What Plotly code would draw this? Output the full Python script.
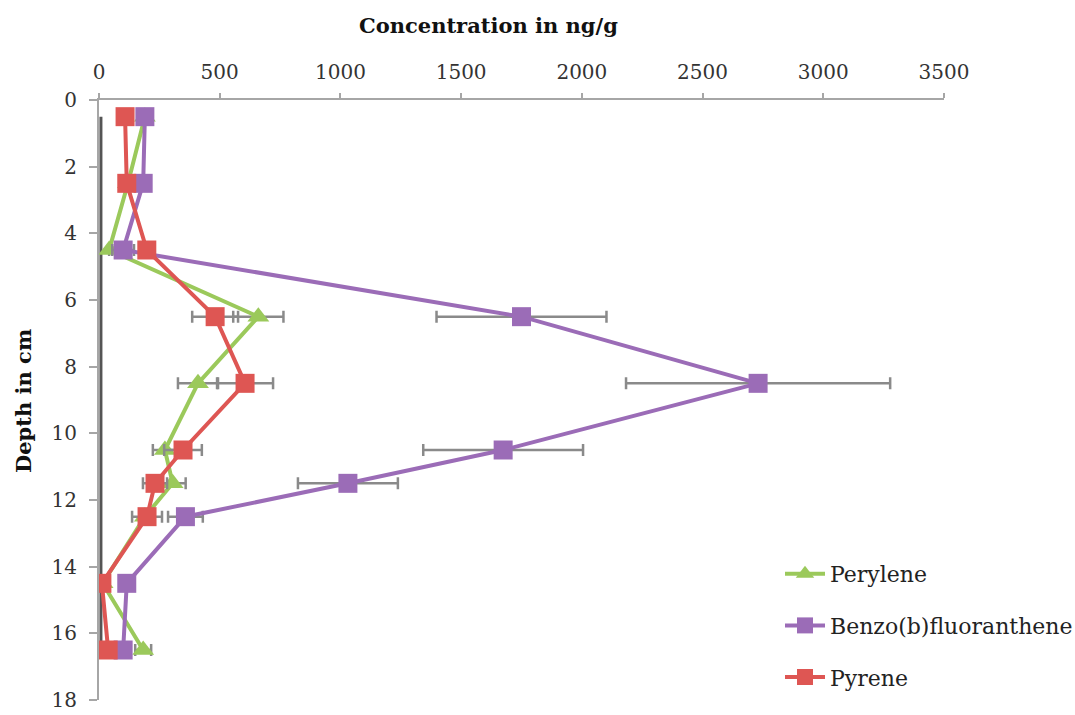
import plotly.graph_objects as go

# Sediment core sampling depths (cm)
depth = [0.5, 2.5, 4.5, 6.5, 8.5, 10.5, 11.5, 12.5, 14.5, 16.5]

# PAH concentrations (ng/g) per depth
perylene = [190, 120, 42, 660, 410, 273, 305, 190, 15, 183]
benzo_b_fluoranthene = [190, 183, 100, 1750, 2730, 1674, 1031, 358, 115, 100]
pyrene = [108, 115, 198, 481, 605, 348, 232, 199, 12, 38]
blank = [8, 8, 8, 8, 8, 8, 8, 8, 8, 8]

# Standard deviations (ng/g); None where no bar is shown
perylene_err = [None, None, None, 104, 83, 50, 54, None, None, 33]
benzo_err = [None, None, 45, 352, 547, 331, 207, 72, None, None]
pyrene_err = [None, None, None, 95, 116, 78, 50, 62, None, None]

x_ticks = [0, 500, 1000, 1500, 2000, 2500, 3000, 3500]
y_ticks = [0, 2, 4, 6, 8, 10, 12, 14, 16, 18]

GREEN = "#9BC95B"
PURPLE = "#9B6CB7"
RED = "#DE5653"
ERR = "#8A8A8A"
AXIS = "#A6A6A6"
FONT = "DejaVu Serif"


def err_cfg(values):
    return dict(type="data", array=values, symmetric=True, visible=True,
                color=ERR, thickness=2.5, width=6)


fig = go.Figure()

fig.add_trace(go.Scatter(
    x=blank, y=depth, mode="lines", showlegend=False, hoverinfo="skip",
    line=dict(color="#555555", width=3),
))

fig.add_trace(go.Scatter(
    x=perylene, y=depth, name="Perylene", mode="lines+markers",
    legendgroup="a",
    line=dict(color=GREEN, width=4),
    marker=dict(symbol="triangle-up", size=19, color=GREEN),
    error_x=err_cfg(perylene_err),
))
fig.add_trace(go.Scatter(
    x=benzo_b_fluoranthene, y=depth, name="Benzo(b)fluoranthene",
    mode="lines+markers", legendgroup="b",
    line=dict(color=PURPLE, width=4),
    marker=dict(symbol="square", size=19, color=PURPLE),
    error_x=err_cfg(benzo_err),
))
fig.add_trace(go.Scatter(
    x=pyrene, y=depth, name="Pyrene", mode="lines+markers",
    legendgroup="c",
    line=dict(color=RED, width=4),
    marker=dict(symbol="square", size=19, color=RED),
    error_x=err_cfg(pyrene_err),
))

L, R, T, B = 99, 131, 100, 15
W, H = 1075, 715
pw = W - L - R
ph = H - T - B

fig.update_layout(
    width=W, height=H,
    margin=dict(l=L, r=R, t=T, b=B, autoexpand=False),
    paper_bgcolor="white", plot_bgcolor="white",
    font=dict(family=FONT, size=20, color="#222222"),
    showlegend=True,
    legend=dict(
        x=(780 - L) / pw, y=(H - B - 553) / ph, xanchor="left", yanchor="top",
        traceorder="grouped", tracegroupgap=20,
        font=dict(family=FONT, size=22, color="#222222"),
        bgcolor="rgba(0,0,0,0)", itemwidth=40,
    ),
    xaxis=dict(
        side="top", range=[0, 3500], tickvals=x_ticks,
        ticktext=[str(v) for v in x_ticks],
        showgrid=False, zeroline=False,
        showline=True, linecolor=AXIS, linewidth=2,
        ticks="outside", ticklen=5, tickwidth=2, tickcolor=AXIS,
        tickfont=dict(family=FONT, size=20, color="#333333"),
        ticklabelstandoff=6, automargin=False,
    ),
    yaxis=dict(
        range=[18, 0], tickvals=y_ticks,
        showgrid=False, zeroline=False,
        showline=True, linecolor=AXIS, linewidth=2,
        ticks="outside", ticklen=8, tickwidth=2, tickcolor=AXIS,
        tickfont=dict(family=FONT, size=20, color="#333333"),
        ticklabelstandoff=8, automargin=False,
    ),
    annotations=[
        dict(text="<b>Concentration in ng/g</b>", xref="paper", yref="paper",
             x=(488 - L) / pw, y=(H - B - 25) / ph, xanchor="center",
             yanchor="middle", showarrow=False,
             font=dict(family=FONT, size=21, color="#111111")),
        dict(text="<b>Depth in cm</b>", xref="paper", yref="paper",
             x=(23 - L) / pw, y=(H - B - 401) / ph, xanchor="center",
             yanchor="middle", showarrow=False, textangle=-90,
             font=dict(family=FONT, size=21, color="#111111")),
    ],
)

fig.write_html("out.html")
